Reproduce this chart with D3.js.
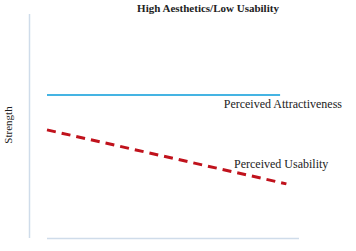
<!DOCTYPE html>
<html>
<head>
<meta charset="utf-8">
<script src="https://cdn.jsdelivr.net/npm/d3@7"></script>
<style>
  body { margin: 0; background: #fff; }
  text { font-family: "Liberation Serif", "Times New Roman", serif; fill: #222; }
</style>
</head>
<body>
<svg class="svg-chart"></svg>
<script>
// data
var title = "High Aesthetics/Low Usability"
var yLabel = "Strength"
var seriesNames = ["Perceived Attractiveness", "Perceived Usability"]
var attractiveness = [{ x: 0, y: 6.4 }, { x: 9.25, y: 6.4 }]
var usability = [{ x: 0, y: 4.85 }, { x: 9.5, y: 2.45 }]

var width = 356
var height = 251
var margin = { top: 14, right: 57, bottom: 12, left: 47 }

var svg = d3.select('.svg-chart')
    .attr('width', width)
    .attr('height', height)

var x_scale = d3.scaleLinear()
    .domain([0, 10])
    .range([margin.left, width - margin.right])

var y_scale = d3.scaleLinear()
    .domain([0, 10])
    .range([height - margin.bottom, margin.top])

// axes, drawn as plain lines without ticks
svg.append('line')
    .attr('x1', 29.5).attr('x2', 29.5)
    .attr('y1', y_scale(10)).attr('y2', y_scale(0) - 1)
    .attr('stroke', '#cfdcea')
    .attr('stroke-width', 1.5)

svg.append('line')
    .attr('x1', x_scale(0)).attr('x2', x_scale(10))
    .attr('y1', y_scale(0) - 0.5).attr('y2', y_scale(0) - 0.5)
    .attr('stroke', '#cfdcea')
    .attr('stroke-width', 1.5)

var line = d3.line()
    .x(d => x_scale(d.x))
    .y(d => y_scale(d.y))

svg.append('path')
    .attr('d', line(attractiveness))
    .attr('stroke', '#45b4e3')
    .attr('stroke-width', 2)
    .attr('fill', 'none')

svg.append('path')
    .attr('d', line(usability))
    .attr('stroke', '#c0121c')
    .attr('stroke-width', 3)
    .attr('stroke-dasharray', '9,6')
    .attr('fill', 'none')

svg.append('text')
    .attr('x', 208)
    .attr('y', 12)
    .attr('text-anchor', 'middle')
    .style('font-size', '11px')
    .style('font-weight', 'bold')
    .text(title)

svg.append('text')
    .attr('transform', 'translate(12,' + 125 + ') rotate(-90)')
    .attr('text-anchor', 'middle')
    .style('font-size', '11px')
    .text(yLabel)

svg.append('text')
    .attr('x', 342)
    .attr('y', y_scale(6.4) + 13)
    .attr('text-anchor', 'end')
    .style('font-size', '12px')
    .text(seriesNames[0])

svg.append('text')
    .attr('x', 234)
    .attr('y', 168)
    .style('font-size', '12px')
    .text(seriesNames[1])
</script>
</body>
</html>
